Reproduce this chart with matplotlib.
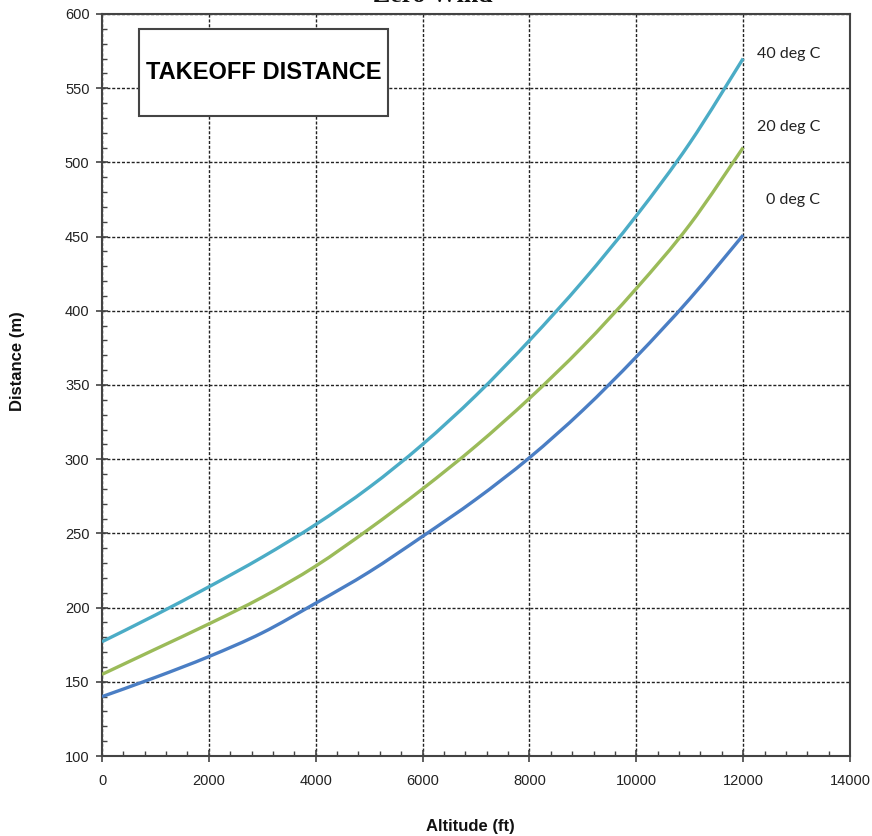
import matplotlib
matplotlib.use("Agg")
import matplotlib.pyplot as plt
from matplotlib.patches import Rectangle, PathPatch
from matplotlib.path import Path
from matplotlib.ticker import MultipleLocator

# Takeoff distance vs pressure altitude, zero wind
altitude_ft = [0, 1000, 2000, 3000, 4000, 5000, 6000, 7000, 8000, 9000, 10000, 11000, 12000]
dist_0C = [140, 153, 167, 183, 203, 224, 248, 273, 301, 333, 369, 408, 451]
dist_20C = [155, 172, 189, 207, 228, 253, 280, 309, 341, 376, 415, 458, 510]
dist_40C = [177, 195, 214, 234, 256, 281, 310, 343, 380, 420, 464, 513, 570]

series_labels = ["0 deg C", "20 deg C", "40 deg C"]
series_colors = ["#4A7EC4", "#9BBB59", "#4BACC6"]

x_ticks = [0, 2000, 4000, 6000, 8000, 10000, 12000, 14000]
y_ticks = [100, 150, 200, 250, 300, 350, 400, 450, 500, 550, 600]

plt.rcParams["font.family"] = ["Liberation Sans", "DejaVu Sans"]


def smooth_path(xs, ys):
    """Cubic Bezier path through the points (Catmull-Rom style smoothed line)."""
    pts = list(zip(xs, ys))
    verts = [pts[0]]
    codes = [Path.MOVETO]
    n = len(pts)
    for i in range(n - 1):
        p0 = pts[i - 1] if i > 0 else pts[i]
        p1 = pts[i]
        p2 = pts[i + 1]
        p3 = pts[i + 2] if i + 2 < n else pts[i + 1]
        c1 = (p1[0] + (p2[0] - p0[0]) / 6.0, p1[1] + (p2[1] - p0[1]) / 6.0)
        c2 = (p2[0] - (p3[0] - p1[0]) / 6.0, p2[1] - (p3[1] - p1[1]) / 6.0)
        verts += [c1, c2, p2]
        codes += [Path.CURVE4] * 3
    return Path(verts, codes)


fig = plt.figure(figsize=(8.72, 8.36), dpi=100)
ax = fig.add_axes([102 / 872, 1 - 756 / 836, 748 / 872, 742 / 836])

for ys, col in zip([dist_0C, dist_20C, dist_40C], series_colors):
    patch = PathPatch(smooth_path(altitude_ft, ys), facecolor="none", edgecolor=col,
                      lw=2.4, capstyle="butt", zorder=3)
    ax.add_patch(patch)

ax.set_xlim(0, 14000)
ax.set_ylim(100, 600)
ax.set_xticks(x_ticks)
ax.set_yticks(y_ticks)
ax.xaxis.set_minor_locator(MultipleLocator(400))
ax.yaxis.set_minor_locator(MultipleLocator(10))

ax.grid(True, which="major", color="#222222", lw=1.0, linestyle=(0, (2.2, 1.3)), zorder=1)

for s in ax.spines.values():
    s.set_color("#444444")
    s.set_linewidth(1.5)

ax.tick_params(which="major", direction="inout", length=8, width=1.2, color="#444444",
               labelsize=10.5, labelcolor="#222222", pad=5)
ax.tick_params(which="minor", direction="in", length=3.5, width=1.0, color="#444444")
ax.tick_params(axis="x", which="major", pad=9)
ax.tick_params(top=False, right=False, which="both")

ax.set_ylabel("Distance (m)", fontsize=12, fontweight="bold", color="#111111")
ax.yaxis.set_label_coords(-0.103, 0.532)
ax.set_xlabel("Altitude (ft)", fontsize=12, fontweight="bold", color="#111111")
ax.xaxis.set_label_coords(0.493, -0.085)

# Boxed chart caption
box = Rectangle((0.0495, 0.8625), 0.3325, 0.1175, transform=ax.transAxes,
                facecolor="white", edgecolor="#444444", lw=1.5, zorder=4)
ax.add_patch(box)
ax.text(0.0495 + 0.3325 / 2, 0.8625 + 0.1175 / 2, "TAKEOFF DISTANCE", transform=ax.transAxes,
        ha="center", va="center", fontsize=17, fontweight="bold", color="#000000", zorder=5)

# Series labels to the right of the line ends
label_y = [474.7, 523.8, 573.0]
for lab, yv in zip(series_labels, label_y):
    ax.text(0.96, yv, lab, transform=ax.get_yaxis_transform(), ha="right", va="center",
            fontsize=11.5, color="#222222", family=["Lato", "DejaVu Sans"], zorder=5)

# Title, clipped at the top edge of the figure
fig.text(433 / 872, 1 - 1.5 / 836, "Zero Wind", ha="center", va="baseline",
         fontsize=18.5, fontweight="bold", family=["Liberation Serif", "DejaVu Serif"], color="#111111")

fig.savefig("out.png", dpi=100)
